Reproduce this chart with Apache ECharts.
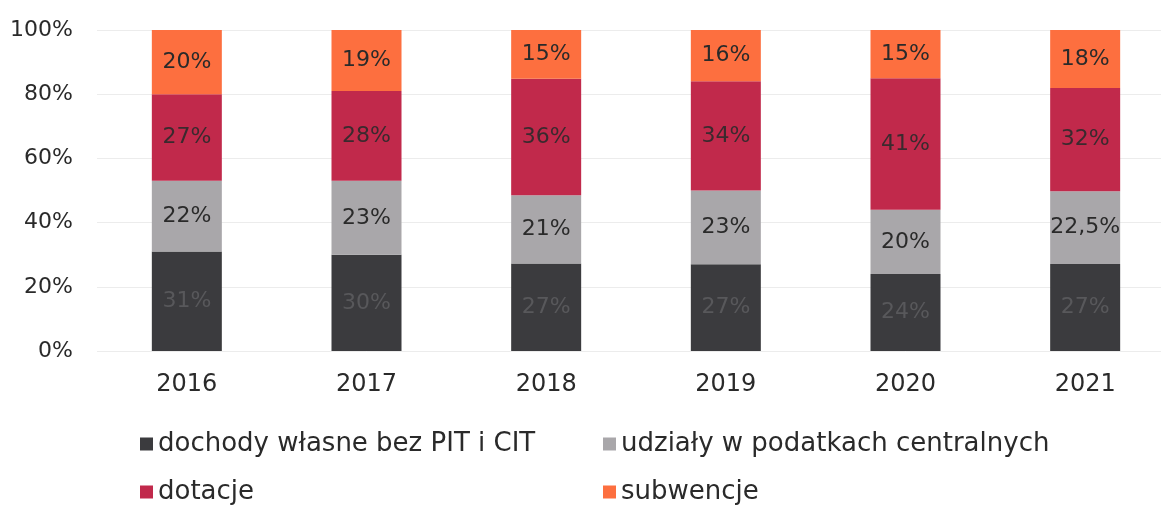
<!DOCTYPE html>
<html>
<head>
<meta charset="utf-8">
<script src="https://cdn.jsdelivr.net/npm/echarts@6/dist/echarts.min.js"></script>
<style>
html,body{margin:0;padding:0;background:#fff;overflow:hidden;}
#c{width:1190px;height:509px;}
</style>
</head>
<body>
<div id="c"></div>
<script>
const years = ['2016','2017','2018','2019','2020','2021'];
const dochody = [31, 30, 27, 27, 24, 27];
const udzialy = [22, 23, 21, 23, 20, 22.5];
const dotacje = [27, 28, 36, 34, 41, 32];
const subwencje = [20, 19, 15, 16, 15, 18];
const yTicks = [0, 20, 40, 60, 80, 100];

const names = ['dochody własne bez PIT i CIT','udziały w podatkach centralnych','dotacje','subwencje'];
const colors = ['#3b3b3e','#a9a7aa','#c1294b','#fd6f3f'];
const labelColors = ['#58585b','#2a2a2a','#3a2a2e','#2a2a2a'];
const raw = [dochody, udzialy, dotacje, subwencje];

const totals = years.map((_, i) => raw.reduce((s, arr) => s + arr[i], 0));

const series = raw.map((arr, k) => ({
  name: names[k],
  type: 'bar',
  stack: 'all',
  barWidth: 70,
  itemStyle: { color: colors[k] },
  label: {
    show: true,
    position: 'inside',
    fontFamily: 'DejaVu Sans',
    fontSize: 22,
    color: labelColors[k],
    formatter: p => String(arr[p.dataIndex]).replace('.', ',') + '%'
  },
  data: arr.map((v, i) => v / totals[i] * 100)
}));

const legendCommon = {
  orient: 'vertical',
  top: 429,
  height: 100,
  padding: 0,
  itemWidth: 13, itemHeight: 13, itemGap: 18, itemTextGap: 9,
  icon: 'rect',
  textStyle: { fontFamily: 'DejaVu Sans', fontSize: 26, color: '#2a2a2a', lineHeight: 30 }
};

const chart = echarts.init(document.getElementById('c'), null, {renderer: 'canvas'});
chart.setOption({
  animation: false,
  backgroundColor: '#ffffff',
  grid: { left: 97, top: 30, width: 1078, bottom: 158 },
  xAxis: {
    type: 'category',
    data: years,
    axisLine: { show: false },
    axisTick: { show: false },
    axisLabel: { fontFamily: 'DejaVu Sans', fontSize: 24, color: '#2a2a2a', margin: 22 }
  },
  yAxis: {
    type: 'value',
    min: yTicks[0],
    max: yTicks[yTicks.length - 1],
    interval: 20,
    axisLine: { show: false },
    axisTick: { show: false },
    splitLine: { lineStyle: { color: '#ececec', width: 1 } },
    axisLabel: { fontFamily: 'DejaVu Sans', fontSize: 22, color: '#2a2a2a', margin: 24, formatter: '{value}%' }
  },
  legend: [
    Object.assign({}, legendCommon, { data: [names[0], names[2]], left: 140 }),
    Object.assign({}, legendCommon, { data: [names[1], names[3]], left: 603 })
  ],
  series: series
});
</script>
</body>
</html>
